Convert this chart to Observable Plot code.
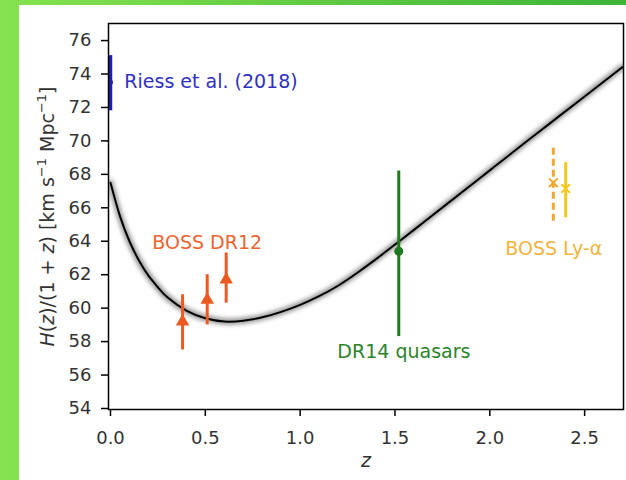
<!DOCTYPE html>
<html>
<head>
<meta charset="utf-8">
<script src="https://cdn.jsdelivr.net/npm/d3@7"></script>
<script src="https://cdn.jsdelivr.net/npm/@observablehq/plot@0.6"></script>
<style>
  html, body { margin: 0; padding: 0; }
  body { width: 626px; height: 480px; overflow: hidden; position: relative;
         background: linear-gradient(to right, #86e250, #3db338); }
  #panel { position: absolute; left: 19px; top: 5px; width: 607px; height: 475px; background: #fff; }
  #chart { position: absolute; left: 0; top: 0; }
  .glow { filter: blur(2px); }
</style>
</head>
<body>
<div id="panel"></div>
<div id="chart"></div>
<script>
// Model curve H(z)/(1+z)
const curveZ = [0, 0.05, 0.1, 0.15, 0.2, 0.25, 0.3, 0.4, 0.5, 0.6, 0.7, 0.8, 0.9, 1.0, 1.1, 1.2, 1.3, 1.4, 1.5, 1.6, 1.7, 1.8, 1.9, 2.0, 2.1, 2.2, 2.3, 2.4, 2.5, 2.6, 2.7];
const curveH = [67.5, 65.5, 64.0, 62.85, 61.95, 61.25, 60.65, 59.85, 59.4, 59.2, 59.25, 59.45, 59.78, 60.2, 60.72, 61.34, 62.1, 62.93, 63.8, 64.68, 65.57, 66.46, 67.35, 68.24, 69.13, 70.02, 70.9, 71.78, 72.66, 73.54, 74.42];
const curveBand = [0.5, 0.47, 0.43, 0.39, 0.35, 0.31, 0.28, 0.23, 0.2, 0.18, 0.17, 0.16, 0.16, 0.16, 0.16, 0.16, 0.16, 0.16, 0.16, 0.17, 0.17, 0.17, 0.18, 0.18, 0.18, 0.19, 0.19, 0.19, 0.2, 0.2, 0.2];

// Measurements
const pointSet = ["Riess", "DR12", "DR12", "DR12", "DR14", "LyaAuto", "LyaCross"];
const pointZ   = [0.0, 0.38, 0.51, 0.61, 1.52, 2.335, 2.40];
const pointH   = [73.5, 59.2, 60.5, 61.7, 63.4, 67.5, 67.15];
const pointLo  = [71.8, 57.5, 59.0, 60.3, 58.3, 65.2, 65.4];
const pointHi  = [75.1, 60.8, 62.0, 63.3, 68.2, 69.8, 68.7];

// Annotations
const annoText = ["Riess et al. (2018)", "BOSS DR12", "DR14 quasars", "BOSS Ly-\u03b1"];
const annoZ    = [0.53, 0.51, 1.547, 2.337];
const annoH    = [73.5, 63.93, 57.41, 63.57];
const annoSet  = ["Riess", "DR12", "DR14", "LyaText"];

// Axis ticks
const xTicks = [0, 0.5, 1.0, 1.5, 2.0, 2.5];
const yTicks = [54, 56, 58, 60, 62, 64, 66, 68, 70, 72, 74, 76];

const colors = {Riess: "#2020b0", DR12: "#ec5a22", DR14: "#1e7a1e", LyaAuto: "#f0a830", LyaCross: "#f6c81c", LyaText: "#f0b440"};
const textColors = {Riess: "#3030c0", DR12: "#ec6430", DR14: "#2a842a", LyaText: "#f0b440"};

const curve = curveZ.map((z, i) => ({z, h: curveH[i], lo: curveH[i] - curveBand[i], hi: curveH[i] + curveBand[i]}));
const points = pointZ.map((z, i) => ({set: pointSet[i], z, h: pointH[i], lo: pointLo[i], hi: pointHi[i]}));
const annos = annoText.map((t, i) => ({text: t, z: annoZ[i], h: annoH[i], set: annoSet[i]}));
const sel = s => points.filter(p => p.set === s);

const chart = Plot.plot({
  width: 626,
  height: 480,
  marginLeft: 108,
  marginRight: 3,
  marginTop: 23,
  marginBottom: 71,
  style: {background: "transparent", fontFamily: "DejaVu Sans, sans-serif", fontSize: "18px", color: "#222", overflow: "visible"},
  x: {domain: [-0.0105, 2.705], label: null},
  y: {domain: [53.94, 77.02], label: null},
  marks: [
    Plot.areaY(curve, {x: "z", y1: "lo", y2: "hi", fill: "#8a8a8a", fillOpacity: 0.3, curve: "natural", clip: true, className: "glow"}),
    Plot.line(curve, {x: "z", y: "h", stroke: "#555", strokeWidth: 6, strokeOpacity: 0.5, curve: "natural", clip: true, className: "glow"}),
    Plot.line(curve, {x: "z", y: "h", stroke: "#000", strokeWidth: 2, curve: "natural", clip: true}),

    // error bars
    Plot.ruleX(sel("Riess"), {x: "z", y1: "lo", y2: "hi", stroke: colors.Riess, strokeWidth: 3.5}),
    Plot.ruleX(sel("DR12"), {x: "z", y1: "lo", y2: "hi", stroke: colors.DR12, strokeWidth: 3}),
    Plot.ruleX(sel("DR14"), {x: "z", y1: "lo", y2: "hi", stroke: colors.DR14, strokeWidth: 3}),
    Plot.ruleX(sel("LyaAuto"), {x: "z", y1: "lo", y2: "hi", stroke: colors.LyaAuto, strokeWidth: 3, strokeDasharray: "7,4"}),
    Plot.ruleX(sel("LyaCross"), {x: "z", y1: "lo", y2: "hi", stroke: colors.LyaCross, strokeWidth: 3}),

    // markers
    Plot.dot(sel("Riess"), {x: "z", y: "h", r: 2.5, fill: colors.Riess}),
    Plot.dot(sel("DR12"), {x: "z", y: "h", r: 5, symbol: "triangle", fill: colors.DR12}),
    Plot.dot(sel("DR14"), {x: "z", y: "h", r: 4.5, fill: colors.DR14}),
    Plot.dot(sel("LyaAuto"), {x: "z", y: "h", r: 4, symbol: "times", stroke: colors.LyaAuto, strokeWidth: 2}),
    Plot.dot(sel("LyaCross"), {x: "z", y: "h", r: 4, symbol: "times", stroke: colors.LyaCross, strokeWidth: 2}),

    // annotations
    Plot.text(annos, {x: "z", y: "h", text: "text", fill: d => textColors[d.set], fontSize: 19, textAnchor: "middle"}),

    Plot.frame({stroke: "#000", strokeWidth: 1.5}),
    Plot.axisX({ticks: xTicks, tickFormat: d => d.toFixed(1), tickSize: 7, tickPadding: 15, label: null, stroke: "#000", strokeWidth: 1.5, fill: "#333"}),
    Plot.axisY({ticks: yTicks, tickSize: 7, tickPadding: 10, label: null, stroke: "#000", strokeWidth: 1.5, fill: "#333"}),

    // axis titles
    Plot.text(["z"], {frameAnchor: "bottom", dy: 57, text: d => d, fontStyle: "italic", fontSize: 19, fill: "#333"}),
    Plot.text(["ylabel"], {frameAnchor: "left", dx: -61, rotate: -90, textAnchor: "middle", text: d => "H(z)/(1 + z) [km s\u207b\u00b9 Mpc\u207b\u00b9]", fontSize: 19, fill: "#333", className: "ylab"})
  ]
});

document.getElementById("chart").appendChild(chart);

// rich formatting of the y-axis title (italic symbols, superscripts)
const yl = d3.select(chart).select(".ylab text");
if (!yl.empty()) {
  yl.text(null);
  const parts = [["H", "i"], ["(", ""], ["z", "i"], [")/(1 + ", ""], ["z", "i"], [") [km s", ""], ["\u22121", "s"], [" Mpc", "b"], ["\u22121", "s"], ["]", "b"]];
  parts.forEach(([t, k]) => {
    const ts = yl.append("tspan").text(t);
    if (k === "i") ts.attr("font-style", "italic");
    if (k === "s") ts.attr("font-size", 13).attr("dy", -8);
    if (k === "b") ts.attr("dy", 8);
  });
}
</script>
</body>
</html>
